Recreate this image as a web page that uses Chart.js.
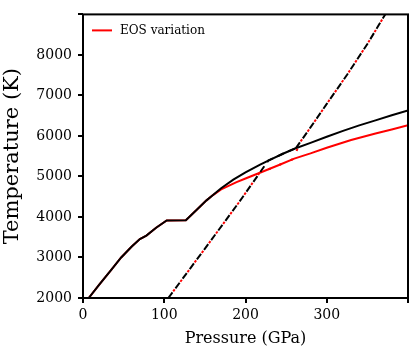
<!DOCTYPE html>
<html>
<head>
<meta charset="utf-8">
<script src="https://cdn.jsdelivr.net/npm/chart.js@4/dist/chart.umd.min.js"></script>
<style>
html,body{margin:0;padding:0;background:#fff;}
#wrap{width:415px;height:348px;position:relative;}
</style>
</head>
<body>
<div id="wrap"><canvas id="c" width="415" height="348"></canvas></div>
<script>
// ---- data ----
const xTicks = [0, 100, 200, 300, 400];
const yTicks = [2000, 3000, 4000, 5000, 6000, 7000, 8000, 9000];

// black solid curve
const blackP = [7, 20, 35, 47, 60, 70, 78, 90, 103, 126.6, 140, 152, 160, 170, 185, 200, 218, 230, 246, 261, 280, 300, 320, 340, 360, 380, 400];
const blackT = [2000, 2330, 2700, 3000, 3270, 3455, 3540, 3735, 3913, 3920, 4180, 4410, 4540, 4710, 4920, 5100, 5290, 5410, 5560, 5690, 5830, 5980, 6125, 6260, 6385, 6510, 6630];

// red solid curve (EOS variation)
const redP = [7, 20, 35, 47, 60, 70, 78, 90, 103, 126.6, 140, 152, 160, 170, 189, 200, 220, 242, 260, 280, 300, 330, 360, 380, 400];
const redT = [2000, 2330, 2700, 3000, 3270, 3455, 3540, 3735, 3913, 3920, 4180, 4410, 4540, 4680, 4860, 4950, 5110, 5290, 5440, 5570, 5710, 5900, 6060, 6160, 6265];

// black dashed: lower part (up to and along the black curve)
const blackDashLowP = [105, 156, 193, 228, 246, 262];
const blackDashLowT = [2000, 3380, 4390, 5390, 5560, 5700];
// red dashed: lower part (up to and along the red curve, then the jump)
const redDashLowP = [105, 156, 193, 217, 242, 260, 266];
const redDashLowT = [2000, 3380, 4390, 5080, 5290, 5440, 5820];
// shared upper dashed branch
const dashHighP = [262, 280, 300, 325, 350, 375];
const dashHighT = [5700, 6210, 6790, 7510, 8270, 9100];

const legendLabel = 'EOS variation';
const xTitle = 'Pressure (GPa)';
const yTitle = 'Temperature (K)';

function pts(xs, ys){ return xs.map((x,i)=>({x:x, y:ys[i]})); }

const boxPlugin = {
  id: 'box',
  afterDatasetsDraw(chart){
    const {ctx, chartArea:a} = chart;
    ctx.save();
    ctx.strokeStyle = '#000';
    ctx.lineWidth = 2;
    ctx.strokeRect(a.left, a.top, a.right - a.left, a.bottom - a.top);
    // legend
    const ds = chart.data.datasets.find(d => d.showInLegend);
    const ly = a.top + 16;
    ctx.strokeStyle = ds.borderColor;
    ctx.lineWidth = 2;
    ctx.beginPath();
    ctx.moveTo(a.left + 9, ly);
    ctx.lineTo(a.left + 29, ly);
    ctx.stroke();
    ctx.fillStyle = '#000';
    ctx.font = '12px "DejaVu Serif"';
    ctx.textBaseline = 'middle';
    ctx.textAlign = 'left';
    ctx.fillText(ds.label, a.left + 37, ly);
    ctx.restore();
  }
};

const blackDash = { showLine: true, borderColor: '#000', borderWidth: 2, borderDash: [7,5], borderDashOffset: 0, pointRadius: 0, order: 0 };
const redDash = { showLine: true, borderColor: '#ff0000', borderWidth: 2, borderDash: [2.5,9.5], borderDashOffset: 3.75, pointRadius: 0, order: 1 };

new Chart(document.getElementById('c'), {
  type: 'scatter',
  data: {
    datasets: [
      Object.assign({ label: 'black dashed low', data: pts(blackDashLowP, blackDashLowT) }, blackDash),
      Object.assign({ label: 'black dashed high', data: pts(dashHighP, dashHighT) }, blackDash),
      Object.assign({ label: 'red dashed low', data: pts(redDashLowP, redDashLowT) }, redDash),
      Object.assign({ label: 'red dashed high', data: pts(dashHighP, dashHighT) }, redDash),
      { label: 'black', data: pts(blackP, blackT), showLine: true, borderColor: '#000', borderWidth: 2, pointRadius: 0, order: 2 },
      { label: legendLabel, showInLegend: true, data: pts(redP, redT), showLine: true, borderColor: '#ff0000', borderWidth: 2, pointRadius: 0, order: 3 }
    ]
  },
  options: {
    responsive: false,
    animation: false,
    events: [],
    layout: { padding: { left: 0, right: 7, top: 7, bottom: 0 } },
    plugins: { legend: { display: false }, tooltip: { enabled: false } },
    scales: {
      x: {
        type: 'linear', min: 0, max: 400,
        afterBuildTicks: s => { s.ticks = xTicks.map(v => ({value: v})); },
        afterFit: s => { s.height = 50; },
        grid: { drawOnChartArea: false, drawTicks: true, tickLength: 5, color: '#000', lineWidth: 2 },
        border: { display: false },
        ticks: { color: '#000', padding: 4, maxRotation: 0, font: { family: 'DejaVu Serif', size: 14 },
          callback: v => (v === 400 ? '' : String(v)) },
        title: { display: true, text: xTitle, color: '#000', font: { family: 'DejaVu Serif', size: 16 }, padding: { top: 0, bottom: 0 } }
      },
      y: {
        type: 'linear', min: 2000, max: 9000,
        afterBuildTicks: s => { s.ticks = yTicks.map(v => ({value: v})); },
        afterFit: s => { s.width = 83; },
        grid: { drawOnChartArea: false, drawTicks: true, tickLength: 5, color: '#000', lineWidth: 2 },
        border: { display: false },
        ticks: { color: '#000', padding: 6, font: { family: 'DejaVu Serif', size: 14 },
          callback: v => (v === 9000 ? '' : String(v)) },
        title: { display: true, text: yTitle, color: '#000', font: { family: 'DejaVu Serif', size: 21 }, padding: { top: 0, bottom: 0 } }
      }
    }
  },
  plugins: [boxPlugin]
});
</script>
</body>
</html>
